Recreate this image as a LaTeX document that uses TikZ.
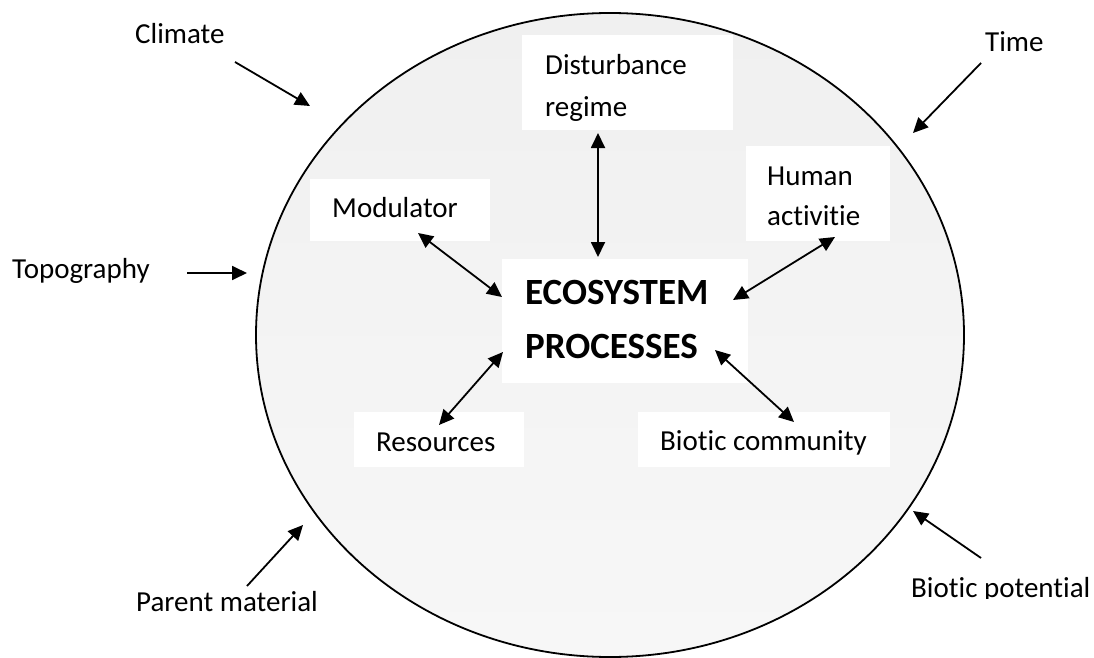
\documentclass[tikz,border=0pt]{standalone}
\usepackage{fontspec}
\setmainfont[Ligatures=NoCommon]{Carlito}
\usetikzlibrary{arrows.meta}
\begin{document}
\begin{tikzpicture}[x=1pt,y=-1pt,
  lbl/.style={inner sep=0pt,anchor=base west,font=\fontsize{29}{35}\selectfont},
  blbl/.style={inner sep=0pt,anchor=base west,font=\fontsize{37}{44}\selectfont\bfseries},
  wbox/.style={fill=white,draw=none},
  inarrow/.style={line width=1.8pt,{Triangle[length=15pt,width=14pt]}-{Triangle[length=15pt,width=14pt]}},
  outarrow/.style={line width=1.8pt,-{Triangle[length=15pt,width=14pt]}}]
\useasboundingbox (0,0) rectangle (1094,658);
\shade[top color={rgb,255:red,240;green,240;blue,240},bottom color={rgb,255:red,247;green,247;blue,247}] (610,335) ellipse [x radius=354,y radius=322];
\draw[line width=1.8pt] (610,335) ellipse [x radius=354,y radius=322];
% white boxes
\fill[wbox] (522,35) rectangle (733,130);
\fill[wbox] (310,179) rectangle (490,241);
\fill[wbox] (746,146) rectangle (890,241);
\fill[wbox] (502,259) rectangle (748,383);
\fill[wbox] (354,412) rectangle (524,467);
\fill[wbox] (638,412) rectangle (890,467);
% texts
\node[lbl] (climate) at (135,44) {Climate};
\node[lbl] (topo) at (12,278) {Topography};
\node[lbl] (time) at (985,52) {Time};
\node[lbl] (parent) at (136,611) {Parent material};
\begin{scope}
\clip (880,560) rectangle (1094,598);
\node[lbl] (biopot) at (911,597) {Biotic potential};
\end{scope}
\node[lbl] (dist1) at (545,75) {Disturbance};
\node[lbl] (dist2) at (545,117) {regime};
\node[lbl] (mod) at (332,217) {Modulator};
\node[lbl] (hum1) at (767,185) {Human};
\node[lbl] (hum2) at (767,225) {activitie};
\node[blbl] (eco1) at (525,304) {ECOSYSTEM};
\node[blbl] (eco2) at (525,358) {PROCESSES};
\node[lbl] (res) at (376,451) {Resources};
\node[lbl] (bioc) at (660,450) {Biotic community};
% arrow end points
\coordinate (climS) at (235,62); \coordinate (climE) at (310,106);
\coordinate (topoS) at (187,273); \coordinate (topoE) at (247,273);
\coordinate (timeS) at (981,63); \coordinate (timeE) at (913,133);
\coordinate (parS) at (247,586); \coordinate (parE) at (303,525);
\coordinate (bpS) at (981,558); \coordinate (bpE) at (913,511);
\coordinate (distA) at (598,133); \coordinate (distB) at (598,257);
\coordinate (modA) at (418,233); \coordinate (modB) at (502,297);
\coordinate (humA) at (733,300); \coordinate (humB) at (835,237);
\coordinate (resA) at (503,352); \coordinate (resB) at (439,425);
\coordinate (bioA) at (715,350); \coordinate (bioB) at (794,422);
\draw[outarrow] (climS) -- (climE);
\draw[outarrow] (topoS) -- (topoE);
\draw[outarrow] (timeS) -- (timeE);
\draw[outarrow] (parS) -- (parE);
\draw[outarrow] (bpS) -- (bpE);
\draw[inarrow] (distA) -- (distB);
\draw[inarrow] (modA) -- (modB);
\draw[inarrow] (humA) -- (humB);
\draw[inarrow] (resA) -- (resB);
\draw[inarrow] (bioA) -- (bioB);
\end{tikzpicture}
\end{document}
